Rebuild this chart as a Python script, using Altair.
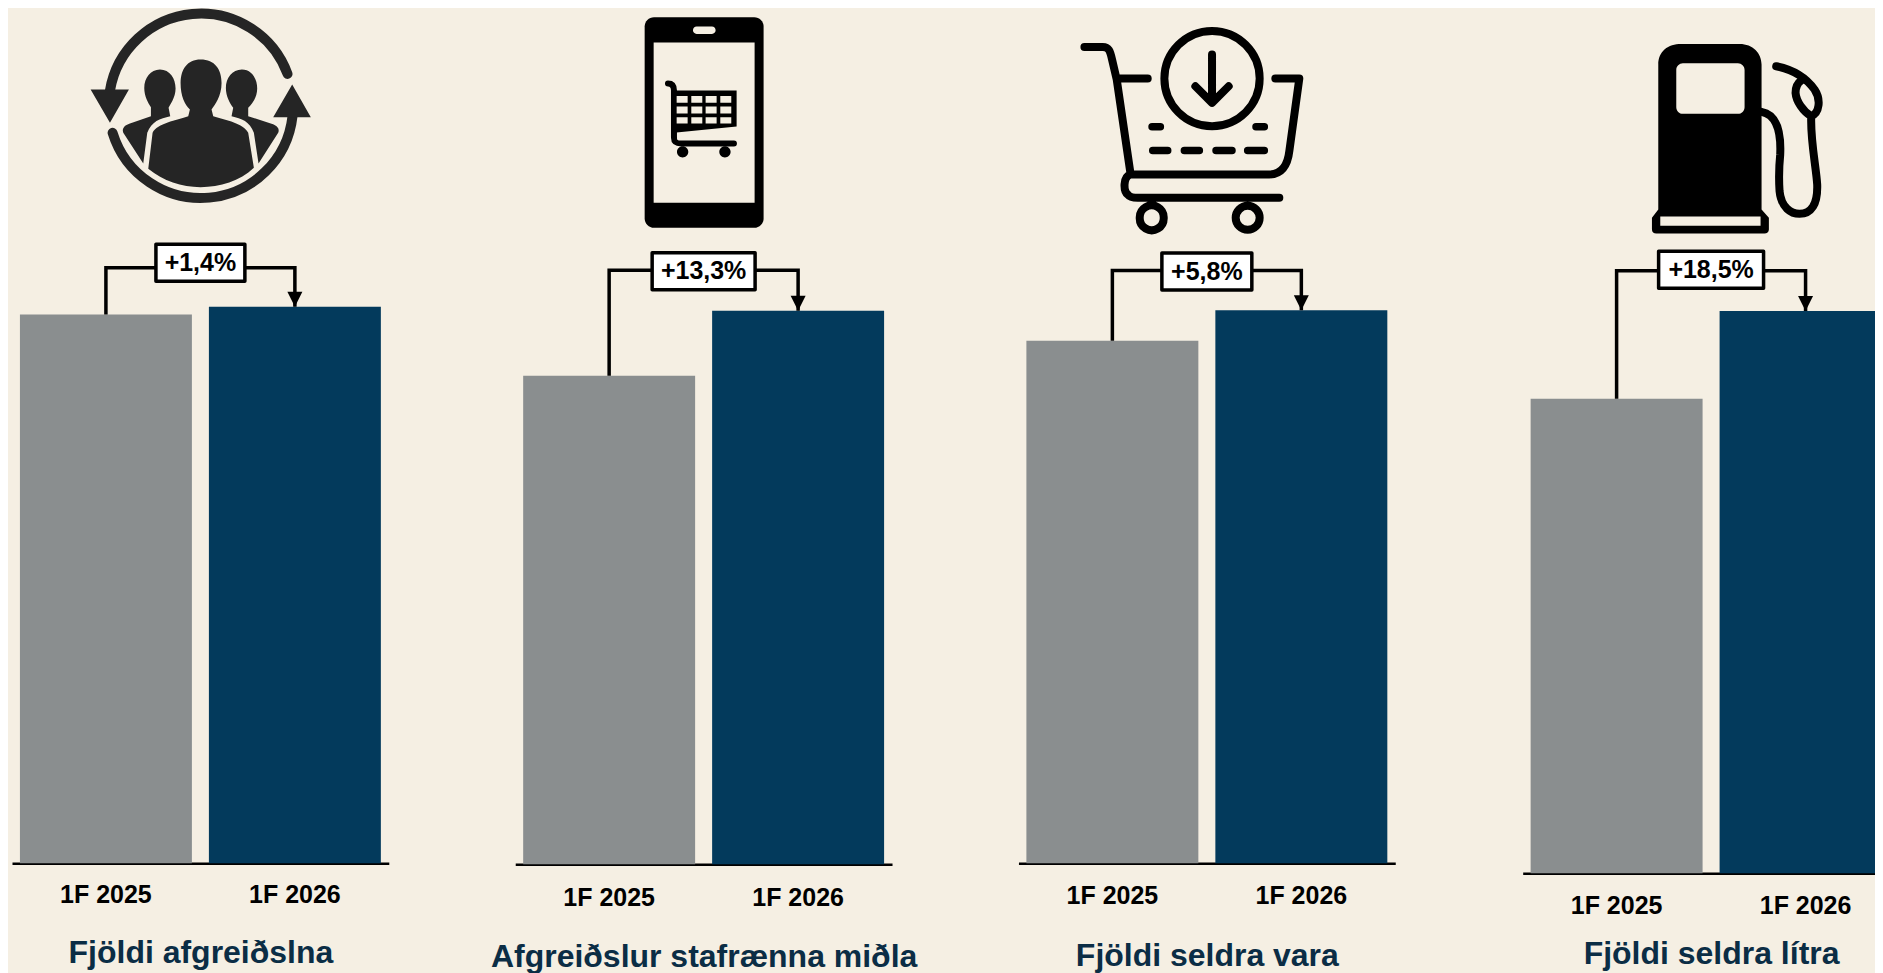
import re
import altair as alt
import pandas as pd

# ---- values -------------------------------------------------------------
periods = ["1F 2025", "1F 2026"]
titles = ["Fjöldi afgreiðslna", "Afgreiðslur stafrænna miðla", "Fjöldi seldra vara", "Fjöldi seldra lítra"]
labels = ["+1,4%", "+13,3%", "+5,8%", "+18,5%"]
values_2025 = [100, 100, 100, 100]
values_2026 = [101.4, 113.3, 105.8, 118.5]
bracket_levels = [108.5, 121.6, 113.4, 127.0]
y_tops = [155.6, 175.0, 163.4, 182.1]

# ---- styles -------------------------------------------------------------
BG = "#F5EFE3"
GRAY = "#8A8E8F"
NAVY = "#033A5C"
TITLE = "#0B2D45"
FONT = "Liberation Sans"
WIDTH = 377
VIEW_H = 961
panel_w = [377, 377, 377.5, 377]
baselines = [854.5, 855.5, 854.5, 864.5]
label_pad = [19, 21, 20, 20]
title_pad = [30, 31, 32, 20]
box_w = [89, 103, 90, 105]
box_h = 37
box_dy = [-5, 1, 1, -1]
PANEL_LEFT = [12, 515.5, 1019, 1523]
TOP = 8


def norm_center(d, w, h, side):
    """Rescale an absolute path drawn in a w x h box into Vega's -1..1 symbol box."""
    c = side / 2
    toks = re.findall(r"[MLCAZ]|-?\d+\.?\d*", d)
    out, i = [], 0
    fx = lambda v: f"{(float(v)-w/2)/c:.4f}"
    fy = lambda v: f"{(float(v)-h/2)/c:.4f}"
    while i < len(toks):
        t = toks[i]
        if t == "A":
            rx, ry, rot, la, sw, x, y = toks[i + 1:i + 8]
            out.append(f"A{float(rx)/c:.4f},{float(ry)/c:.4f} {rot} {la} {sw} {fx(x)},{fy(y)}")
            i += 8
        elif t in "MLC":
            i += 1
            nums = []
            while i < len(toks) and toks[i] not in "MLCAZ":
                nums.append(toks[i])
                i += 1
            out.append(t + " ".join(f"{fx(nums[j])},{fy(nums[j+1])}" for j in range(0, len(nums), 2)))
        else:
            out.append("Z")
            i += 1
    return "".join(out)


def circle(x, y, r):
    return f"M {x-r} {y} A {r} {r} 0 1 0 {x+r} {y} A {r} {r} 0 1 0 {x-r} {y} Z "


def rrect(x0, y0, x1, y1, r):
    k = r * 0.45
    return (f"M {x0+r} {y0} L {x1-r} {y0} C {x1-k} {y0} {x1} {y0+k} {x1} {y0+r} L {x1} {y1-r} "
            f"C {x1} {y1-k} {x1-k} {y1} {x1-r} {y1} L {x0+r} {y1} C {x0+k} {y1} {x0} {y1-k} {x0} {y1-r} "
            f"L {x0} {y0+r} C {x0} {y0+k} {x0+k} {y0} {x0+r} {y0} Z ")


ONE = alt.Data(values=[{"i": 1}])
INK = "#252525"
ICONS = [
    {"box": (780, 630), "origin": (70, 0), "parts": [
        ("M 653 218 A 277 277 0 0 0 120 268 M 128 395 A 277 277 0 0 0 668 345", "line", INK, 10),
        ("M 62 265 L 177 265 L 120 365 Z M 610 348 L 723 348 L 667 250 Z", "fill", INK, 0),
        ("M 392 175 C 435 175 455 205 455 245 C 455 285 435 310 425 325 L 430 345 C 470 358 520 365 535 395 "
         "L 552 500 C 510 540 450 558 392 558 C 335 558 280 540 235 503 L 248 395 C 262 365 320 358 355 345 "
         "L 360 325 C 345 310 332 285 332 245 C 332 205 352 175 392 175 Z", "fill", INK, 0),
        ("M 270 205 C 300 205 317 232 317 262 C 317 290 300 310 296 320 L 301 345 C 270 352 245 360 232 395 "
         "L 220 487 L 160 395 C 155 380 165 372 180 367 L 243 345 L 243 318 C 235 305 223 285 223 260 "
         "C 223 230 242 205 270 205 Z", "fill", INK, 0),
        ("M 516 205 C 545 205 562 232 562 262 C 562 290 545 310 535 320 L 535 345 L 605 368 C 622 374 630 382 625 395 "
         "L 566 487 L 552 395 C 540 360 515 352 485 345 L 490 320 C 480 305 468 285 468 260 C 468 230 487 205 516 205 Z",
         "fill", INK, 0),
    ]},
    {"box": (510, 720), "origin": (620, 0), "parts": [
        (rrect(75, 48, 432, 680, 28), "fill", "black", 0),
        ("M 102 124 L 405 124 L 405 605 L 102 605 Z " + rrect(220, 76, 288, 98, 11), "fill", BG, 0),
        ("M 163 268 L 351 268 L 351 376 L 163 395 Z " + circle(189, 452, 17) + circle(316, 452, 17), "fill", "black", 0),
        ("M 145 247 C 160 247 163 258 163 268 L 163 410 C 163 425 172 427 185 427 L 343 427", "line", "black", 6),
        ("".join(f"M {x0} {y0} L {x0+33} {y0} L {x0+33} {y1} L {x0} {y1} Z "
                 for x0 in (171, 215, 258, 302) for y0, y1 in ((284, 305), (316, 337), (348, 367))), "fill", BG, 0),
    ]},
    {"box": (810, 690), "origin": (1060, 10), "parts": [
        ("M 75 107 L 130 107 C 148 107 152 118 158 145 L 172 205 L 213 485 M 175 202 L 265 202 "
         "M 648 202 L 720 202 L 690 420 C 685 465 665 490 630 490 L 213 490 C 190 497 192 540 205 550 "
         "C 212 560 225 560 235 560 L 660 560 " + circle(458, 202, 143) +
         "M 458 130 L 458 272 M 408 225 L 458 275 L 508 225 " + circle(277, 620, 36) + circle(565, 620, 36),
         "line", "black", 8),
        ("M 278 347 L 303 347 M 590 347 L 615 347 M 280 418 L 325 418 M 375 418 L 420 418 "
         "M 470 418 L 518 418 M 565 418 L 615 418", "line", "black", 7.5),
    ]},
    {"box": (759, 660), "origin": (1630, 20), "parts": [
        ("M 86 565 L 86 130 C 86 90 115 68 155 68 L 330 68 C 370 68 396 95 396 130 L 396 565 L 418 590 L 418 625 "
         "C 418 633 412 637 405 637 L 80 637 C 72 637 67 633 67 625 L 67 590 Z", "fill", "black", 0),
        (rrect(140, 126, 345, 278, 20) + "M 92 586 L 393 586 L 393 614 L 92 614 Z", "fill", BG, 0),
        ("M 396 272 C 440 280 455 330 452 400 C 448 440 448 480 450 510 C 455 560 485 578 510 578 "
         "C 545 578 565 550 563 490 C 560 440 543 360 545 290 "
         "M 440 135 C 490 145 530 170 555 205 C 575 235 570 275 545 285 C 520 270 500 240 498 215 C 498 195 505 185 515 178",
         "line", "black", 8),
    ]},
]


def icon_layers(n):
    ic = ICONS[n]
    w, h = ic["box"]
    side = max(w, h)
    px = ic["origin"][0] + w / 6 - PANEL_LEFT[n]
    py = ic["origin"][1] + h / 6 - TOP
    layers = []
    for d, kind, color, sw in ic["parts"]:
        kw = dict(shape=norm_center(d, w, h, side), opacity=1, size=(side / 3) ** 2)
        if kind == "fill":
            kw.update(filled=True, fill=color, strokeWidth=0)
        else:
            kw.update(filled=False, stroke=color, strokeWidth=sw, strokeCap="round", strokeJoin="round")
        layers.append(alt.Chart(ONE).mark_point(**kw).encode(x=alt.value(px), y=alt.value(py)))
    return layers


def panel(n):
    bars = pd.DataFrame({"period": periods, "value": [values_2025[n], values_2026[n]]})
    link = pd.DataFrame({
        "period": [periods[0], periods[0], periods[1], periods[1]],
        "value": [values_2025[n], bracket_levels[n], bracket_levels[n], values_2026[n]],
        "step": [0, 1, 2, 3],
    })
    note = pd.DataFrame({"value": [bracket_levels[n]], "label": [labels[n]]})
    arrow = pd.DataFrame({"period": [periods[1]], "value": [values_2026[n]]})

    yscale = alt.Scale(domain=[0, y_tops[n]], nice=False, zero=False, range=[baselines[n], 0])
    xscale = alt.Scale(domain=periods, paddingInner=0.09, paddingOuter=0.042, range=[0, WIDTH])
    xenc = alt.X("period:N", scale=xscale, title=titles[n], axis=alt.Axis(
        labelAngle=0, ticks=False, domainColor="black", domainWidth=2.5,
        offset=baselines[n] - VIEW_H,
        labelFont=FONT, labelFontSize=25, labelFontWeight="bold", labelColor="black",
        labelPadding=label_pad[n], titleFont=FONT, titleFontSize=32, titleFontWeight="bold",
        titleColor=TITLE, titlePadding=title_pad[n], grid=False))
    yplain = alt.Y("value:Q", scale=yscale, axis=None)

    bar = alt.Chart(bars).mark_bar().encode(
        x=xenc, y=yplain,
        color=alt.Color("period:N", scale=alt.Scale(domain=periods, range=[GRAY, NAVY]), legend=None),
    )
    line = alt.Chart(link).mark_line(color="black", strokeWidth=3.5, strokeJoin="miter", opacity=1).encode(
        x=xenc, y=yplain, order="step:Q")
    head = alt.Chart(arrow).mark_point(
        shape="M-1,-1L1,-1L0,1Z", size=225, filled=True, fill="black", strokeWidth=0, opacity=1, yOffset=-7.5
    ).encode(x=xenc, y=yplain)
    r = box_h / box_w[n]
    box = alt.Chart(note).mark_point(
        shape=f"M-1,{-r:.4f}L1,{-r:.4f}L1,{r:.4f}L-1,{r:.4f}Z", size=box_w[n] ** 2, filled=True, fill="white",
        stroke="black", strokeWidth=3.5, strokeJoin="round", opacity=1, yOffset=box_dy[n],
    ).encode(x=alt.value(WIDTH / 2), y=yplain)
    text = alt.Chart(note).mark_text(
        font=FONT, fontSize=25, fontWeight="bold", color="black", baseline="middle", align="center", yOffset=box_dy[n],
    ).encode(x=alt.value(WIDTH / 2), y=yplain, text="label:N")
    return alt.layer(bar, line, head, box, text, *icon_layers(n)).properties(width=panel_w[n], height=VIEW_H)


chart = alt.hconcat(
    *[panel(i) for i in range(4)],
    spacing=126.5, bounds="flush", background=BG,
    padding={"left": 4, "top": 0, "right": -25, "bottom": 0},
).configure_view(strokeWidth=0)

chart.save("out.html", embed_options={"renderer": "svg", "actions": False})
